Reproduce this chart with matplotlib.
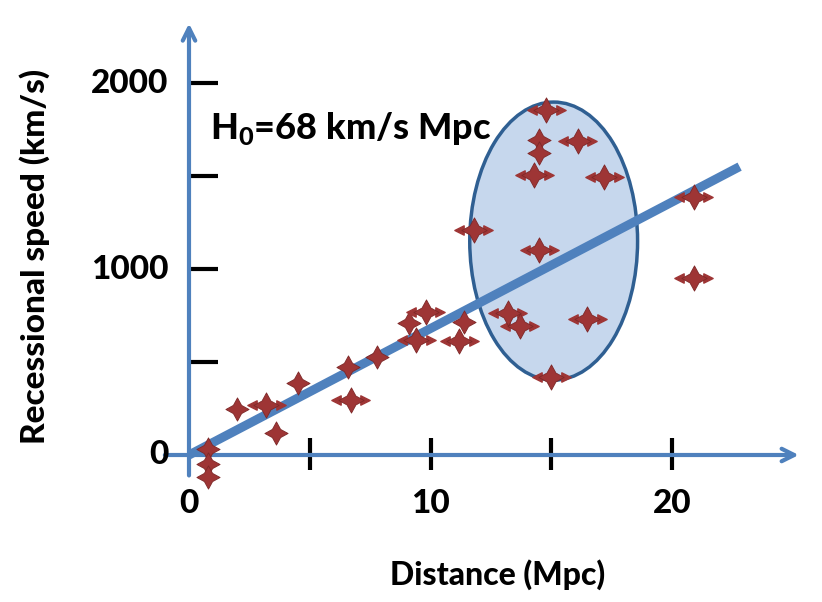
import numpy as np
import matplotlib
matplotlib.use("Agg")
import matplotlib.pyplot as plt
from matplotlib.patches import Ellipse

plt.rcParams['font.family'] = ['Lato', 'DejaVu Sans']
plt.rcParams['font.weight'] = 'black'
plt.rcParams['mathtext.fontset'] = 'custom'
plt.rcParams['mathtext.rm'] = 'Lato:black'

# galaxies: distance (Mpc) and recessional speed (km/s)
dist_star = [0.8, 0.8, 0.8, 2.0, 3.6, 4.5, 6.6, 7.8, 9.1, 11.4, 14.5, 14.5]
speed_star = [30, -48, -118, 246, 120, 389, 475, 527, 711, 717, 1694, 1622]

# galaxies drawn with horizontal error arrows
dist_arrow = [3.2, 6.7, 9.8, 9.4, 11.2, 11.8, 13.2, 13.7, 16.5, 15.0,
              14.5, 14.8, 16.1, 14.3, 17.2, 20.9, 20.9]
speed_arrow = [269, 296, 770, 618, 614, 1210, 765, 694, 730, 421,
               1102, 1855, 1690, 1505, 1493, 1385, 950]
dist_err = 0.6

H0 = 68
fit_dist = [0, 22.8]

# ellipse around the nearby cluster
ell_center = (15.1, 1150)
ell_width = 6.95
ell_height = 1495

x_ticks = [5, 10, 15, 20]
y_ticks = [500, 1000, 1500, 2000]

blue = '#4f81bd'
red = '#9e3535'

fig = plt.figure(figsize=(8.22, 6.02), dpi=100)
ax = fig.add_axes([0, 0, 1, 1])
ax.set_xlim(-189 / 24.15, (822 - 189) / 24.15)
ax.set_ylim(-(602 - 455) / 0.186, 455 / 0.186)
ax.axis('off')

# axes with arrows
arrow = dict(arrowstyle='->,head_length=0.9,head_width=0.45', color=blue, lw=3,
             shrinkA=0, shrinkB=0)
ax.annotate('', xy=(25.25, 0), xytext=(-1.0, 0), arrowprops=arrow)
ax.annotate('', xy=(0, 2320), xytext=(0, -110), arrowprops=arrow)

for t in x_ticks:
    ax.plot([t, t], [-82, 90], color='black', lw=3, solid_capstyle='butt')
for t in y_ticks:
    ax.plot([0.05, 1.2], [t, t], color='black', lw=3, solid_capstyle='butt')

# tick labels
for t in [0, 10, 20]:
    ax.text(t, -262, str(t), ha='center', va='center', fontsize=24)
ax.text(-0.85, 2000, '2000', ha='right', va='center', fontsize=24)
ax.text(-0.85, 1000, '1000', ha='right', va='center', fontsize=24)
ax.text(-0.85, 0, '0', ha='right', va='center', fontsize=24)

ax.text(12.8, -645, 'Distance (Mpc)', ha='center', va='center', fontsize=23)
ax.text(-6.4, 1065, 'Recessional speed (km/s)', ha='center', va='center',
        fontsize=24, rotation=90)

ell = Ellipse(ell_center, ell_width, ell_height, facecolor='#c6d7ed',
              edgecolor='#2f5f92', lw=2.5, zorder=2)
ax.add_patch(ell)

ax.text(0.85, 1758, r'H$_\mathregular{0}$=68 km/s Mpc', ha='left', va='center',
        fontsize=26, zorder=5)

# Hubble fit line
fit_speed = [H0 * d for d in fit_dist]
ax.plot(fit_dist, fit_speed, color=blue, lw=6.5, solid_capstyle='butt', zorder=3)

# data points
ax.scatter(dist_star, speed_star, marker=(4, 1, 0), s=280, color=red,
           edgecolor='#7d2828', lw=0.6, zorder=4)

da = np.array(dist_arrow)
sa = np.array(speed_arrow)
for x, y in zip(da, sa):
    ax.plot([x - dist_err, x + dist_err], [y, y], color=red, lw=2.2, zorder=4)
ax.scatter(da - dist_err, sa, marker='<', s=45, color=red, zorder=4)
ax.scatter(da + dist_err, sa, marker='>', s=45, color=red, zorder=4)
ax.scatter(da, sa, marker=(4, 1, 0), s=330, color=red, edgecolor='#7d2828',
           lw=0.6, zorder=4)

plt.savefig('out.png', dpi=100)
